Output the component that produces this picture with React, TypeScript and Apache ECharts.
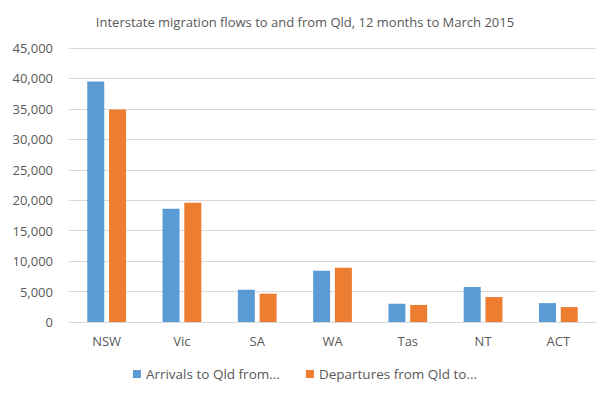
import React, { useEffect, useRef } from "react";
import * as echarts from "echarts";

const categories = ["NSW", "Vic", "SA", "WA", "Tas", "NT", "ACT"];
const arrivals = [39500, 18600, 5300, 8400, 3000, 5750, 3100];
const departures = [34900, 19600, 4650, 8900, 2800, 4100, 2450];
const seriesNames = ["Arrivals to Qld from...", "Departures from Qld to..."];
const titleText = "Interstate migration flows to and from Qld, 12 months to March 2015";

const FONT = "'Open Sans', 'Liberation Sans', sans-serif";
const TEXT = "#595959";

export default function App() {
  const ref = useRef<HTMLDivElement>(null);
  useEffect(() => {
    if (!ref.current) return;
    const chart = echarts.init(ref.current, undefined, { renderer: "svg" });
    chart.setOption({
      animation: false,
      backgroundColor: "#ffffff",
      title: {
        text: titleText,
        left: "center",
        top: 10,
        textStyle: { fontFamily: FONT, fontSize: 13, fontWeight: "normal", color: TEXT },
      },
      legend: {
        bottom: 10,
        left: "center",
        itemWidth: 8,
        itemHeight: 8,
        itemGap: 26,
        icon: "rect",
        textStyle: { fontFamily: FONT, fontSize: 13.5, color: TEXT },
        data: seriesNames,
      },
      grid: { left: 69, right: 14, top: 48, bottom: 74, containLabel: false },
      xAxis: {
        type: "category",
        data: categories,
        axisLine: { lineStyle: { color: "#d9d9d9" } },
        axisTick: { show: false },
        axisLabel: { fontFamily: FONT, fontSize: 13, color: TEXT, margin: 12 },
      },
      yAxis: {
        type: "value",
        min: 0,
        max: 45000,
        interval: 5000,
        axisLine: { show: false },
        axisTick: { show: false },
        splitLine: { lineStyle: { color: "#d9d9d9" } },
        axisLabel: {
          fontFamily: FONT,
          fontSize: 13,
          color: TEXT,
          margin: 16,
          formatter: (v: number) => v.toLocaleString("en-US"),
        },
      },
      series: [
        {
          name: seriesNames[0],
          type: "bar",
          data: arrivals,
          barWidth: 17,
          barGap: "28%",
          itemStyle: { color: "#5b9bd5" },
        },
        {
          name: seriesNames[1],
          type: "bar",
          data: departures,
          barWidth: 17,
          itemStyle: { color: "#ed7d31" },
        },
      ],
    });
    return () => chart.dispose();
  }, []);
  return <div ref={ref} style={{ width: 610, height: 396, position: "absolute", left: 0, top: 0 }} />;
}
